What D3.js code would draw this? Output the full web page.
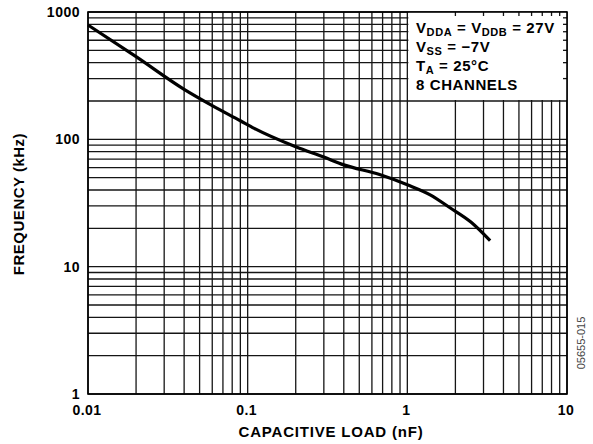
<!DOCTYPE html>
<meta charset="utf-8">
<script src="https://cdn.jsdelivr.net/npm/d3@7"></script>
<style>
  body { margin: 0; background: #fff; }
  text { font-family: "Liberation Sans", Arial, sans-serif; font-weight: bold; fill: #000; }
</style>
<div id="js_chart"></div>
<script>
// values
const loadNF = [0.01, 0.02, 0.04, 0.06, 0.09, 0.11, 0.2, 0.3, 0.4, 0.67, 1.0, 1.4, 1.85, 2.5, 3.3];
const freqKHz = [790, 446, 247, 184, 140, 122, 87.5, 72.5, 63, 53, 44, 36.5, 29, 22.4, 16];

const xTickLabels = ["0.01", "0.1", "1", "10"];
const yTickLabels = ["1", "10", "100", "1000"];
const legendLines = [
    [["V", ""], ["DDA", "sub"], [" = V", ""], ["DDB", "sub"], [" = 27V", ""]],
    [["V", ""], ["SS", "sub"], [" = \u22127V", ""]],
    [["T", ""], ["A", "sub"], [" = 25\u00b0C", ""]],
    [["8 CHANNELS", ""]]
];

const width = 593, height = 444;
const plot = {left: 88, right: 567, top: 12, bottom: 394};

let x = d3.scaleLog().domain([0.01, 10]).range([plot.left, plot.right]);
let y = d3.scaleLog().domain([1, 1000]).range([plot.bottom, plot.top]);

let svg = d3.select("#js_chart").append("svg")
    .attr("width", width)
    .attr("height", height);

// every decade step 1..9
function logSteps(lo, hi) {
    let out = [];
    for (let d = lo; d < hi; d *= 10)
        for (let k = 1; k < 10; k++) out.push(+(d * k).toPrecision(3));
    out.push(hi);
    return out;
}
const xGrid = logSteps(0.01, 10), yGrid = logSteps(1, 1000);

let grid = svg.append("g").attr("stroke", "#151515").attr("stroke-width", 1.3);
grid.selectAll(".vx").data(xGrid).enter().append("line")
    .attr("x1", d => x(d)).attr("x2", d => x(d))
    .attr("y1", plot.top).attr("y2", plot.bottom);
grid.selectAll(".hy").data(yGrid).enter().append("line")
    .attr("x1", plot.left).attr("x2", plot.right)
    .attr("y1", d => y(d)).attr("y2", d => y(d));

// the curve
let line = d3.line()
    .x((d, i) => x(loadNF[i]))
    .y(d => y(d))
    .curve(d3.curveMonotoneX);
svg.append("path")
    .datum(freqKHz)
    .attr("d", line)
    .attr("fill", "none")
    .attr("stroke", "#000")
    .attr("stroke-width", 3.2);

// legend box hides the grid
svg.append("rect")
    .attr("x", x(1) + 1).attr("y", plot.top)
    .attr("width", plot.right - x(1) - 1)
    .attr("height", y(200) - plot.top - 1)
    .attr("fill", "#fff");

// small inward ticks, visible only over the box
let ticks = svg.append("g").attr("stroke", "#151515").attr("stroke-width", 1.3);
ticks.selectAll(".tt").data(xGrid.filter(d => d > 1 && d < 10)).enter().append("line")
    .attr("x1", d => x(d)).attr("x2", d => x(d))
    .attr("y1", plot.top).attr("y2", plot.top + 4);
ticks.selectAll(".tr").data(yGrid.filter(d => d > 200 && d < 1000)).enter().append("line")
    .attr("x1", plot.right - 4).attr("x2", plot.right)
    .attr("y1", d => y(d)).attr("y2", d => y(d));

svg.append("rect")
    .attr("x", plot.left).attr("y", plot.top)
    .attr("width", plot.right - plot.left).attr("height", plot.bottom - plot.top)
    .attr("fill", "none").attr("stroke", "#000").attr("stroke-width", 1.6);

// legend text
let leg = svg.append("g").attr("font-size", 15).attr("letter-spacing", 0.6);
const legBase = [33, 52, 71, 90];
legendLines.forEach(function (parts, i) {
    let t = leg.append("text").attr("x", 416).attr("y", legBase[i]);
    parts.forEach(function (p, j) {
        let s = t.append("tspan").text(p[0]);
        if (p[1] === "sub") s.attr("font-size", 11).attr("dy", 3);
        else if (j > 0) s.attr("dy", -3);
    });
});

// tick labels
svg.append("g").selectAll("text").data(xTickLabels).enter().append("text")
    .attr("x", d => x(+d) - 1)
    .attr("y", 415)
    .attr("text-anchor", "middle")
    .attr("font-size", 14)
    .attr("letter-spacing", 0.5)
    .text(d => d);
svg.append("g").selectAll("text").data(yTickLabels).enter().append("text")
    .attr("x", 80)
    .attr("y", d => y(+d) + 5)
    .attr("text-anchor", "end")
    .attr("font-size", 14)
    .attr("letter-spacing", 0.5)
    .text(d => d);

// axis titles
svg.append("text")
    .attr("x", 331)
    .attr("y", 437)
    .attr("text-anchor", "middle")
    .attr("font-size", 15)
    .attr("letter-spacing", 0.8)
    .text("CAPACITIVE LOAD (nF)");
svg.append("text")
    .attr("transform", "translate(24,204) rotate(-90)")
    .attr("text-anchor", "middle")
    .attr("font-size", 15)
    .attr("letter-spacing", 0.5)
    .text("FREQUENCY (kHz)");

svg.append("text")
    .attr("transform", "translate(585,343) rotate(-90)")
    .attr("text-anchor", "middle")
    .attr("font-size", 11)
    .style("font-weight", "normal")
    .style("fill", "#444")
    .text("05655-015");
</script>
